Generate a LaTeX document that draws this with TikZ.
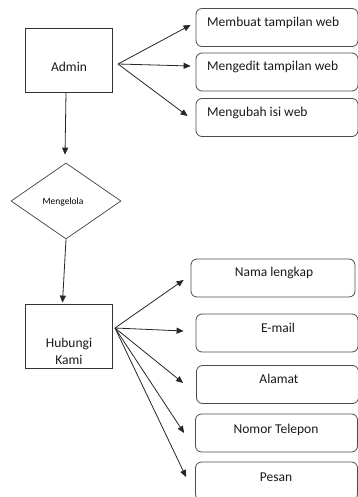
\documentclass[tikz,border=0pt]{standalone}
\usepackage{fontspec}
\setmainfont{Carlito}
\usetikzlibrary{shapes.geometric,arrows.meta,calc}

\begin{document}
\begin{tikzpicture}[x=1pt, y=-1pt]
        \tikzset{
            entity/.style={draw=black!80, line width=0.8pt, minimum width=87pt, minimum height=64pt, inner sep=0pt},
            item/.style={draw=black!70, line width=0.8pt, rounded corners=6pt, minimum width=162pt, minimum height=38pt, inner sep=0pt},
            decide/.style={diamond, aspect=1.45, draw=black!75, line width=0.7pt, minimum width=110pt, minimum height=76pt, inner sep=0pt},
            txt/.style={font=\fontsize{13.5}{17}\selectfont, text=black!90, inner sep=0pt},
            arrow/.style={draw=black!85, line width=0.8pt, -{Triangle[length=7pt, width=6pt]}}
        }
        \useasboundingbox (0,0) rectangle (357,497);

        % Admin and its tasks
        \node[entity] (admin) at (68.5,60) {};
        \node[txt] (adminText) at (69,67) {Admin};
        \coordinate (adminFan) at (118,64);

        \node[item] (make) at (277,27.5) {};
        \node[item] (edit) at (277,72) {};
        \node[item] (change) at (277,117.5) {};
        \node[txt, anchor=west] (makeText) at (207,23) {Membuat tampilan web};
        \node[txt, anchor=west] (editText) at (207,67) {Mengedit tampilan web};
        \node[txt, anchor=west] (changeText) at (207,113) {Mengubah isi web};

        \draw[arrow] (adminFan) -- ($(make.west)+(-5,-2.5)$);
        \draw[arrow] (adminFan) -- ($(edit.west)+(-5,-6)$);
        \draw[arrow] (adminFan) -- ($(change.west)+(-8,-1.5)$);

        % Mengelola
        \node[decide] (manage) at (66,201) {};
        \node[font=\fontsize{9.5}{11}\selectfont, inner sep=0pt] (manageText) at (63,202) {Mengelola};
        \draw[arrow] ([xshift=-2.5pt]admin.south) -- ($(manage.north)+(-1,-8)$);

        % Hubungi Kami and its fields
        \node[entity] (contact) at (68.5,336) {};
        \node[txt, align=center] (contactText) at (69,351.5) {Hubungi\\Kami};
        \draw[arrow] (manage.south) -- ($(contact.north)+(-6,-1)$);
        \coordinate (contactFan) at (115,328);

        \node[item, minimum width=164pt] (name) at (273,278) {};
        \node[item] (email) at (277,333) {};
        \node[item] (address) at (277.5,384.5) {};
        \node[item] (phone) at (276.5,433) {};
        \node[item] (message) at (276.5,481) {};
        \node[txt] (nameText) at (274,273) {Nama lengkap};
        \node[txt] (emailText) at (278,328) {E-mail};
        \node[txt] (addressText) at (279,379) {Alamat};
        \node[txt] (phoneText) at (276,430) {Nomor Telepon};
        \node[txt] (messageText) at (276,477) {Pesan};

        \draw[arrow] (contactFan) -- ($(name.west)+(-7,2)$);
        \draw[arrow] (contactFan) -- ($(email.west)+(-12,-2)$);
        \draw[arrow] (contactFan) -- ($(address.west)+(-13,-1.5)$);
        \draw[arrow] (contactFan) -- ($(phone.west)+(-11,0)$);
        \draw[arrow] (contactFan) -- ($(message.west)+(-9,-4)$);
\end{tikzpicture}
\end{document}
